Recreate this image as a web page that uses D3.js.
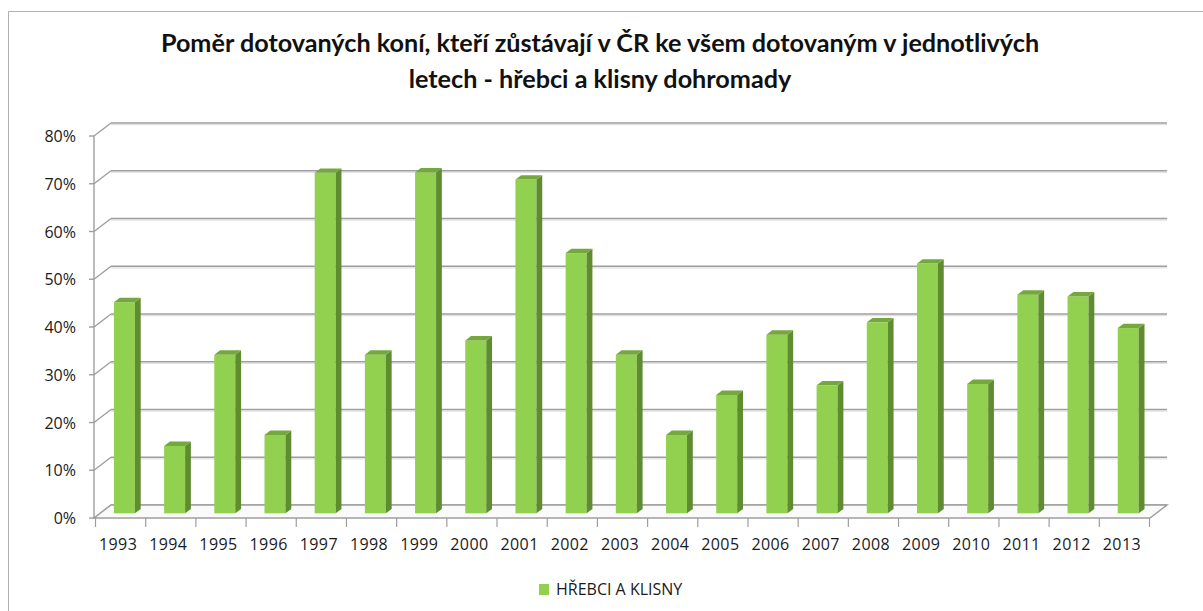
<!DOCTYPE html>
<html>
<head>
<meta charset="utf-8">
<script src="https://cdn.jsdelivr.net/npm/d3@7/dist/d3.min.js"></script>
<style>
  body { margin: 0; background: #fff; }
  svg { display: block; }
</style>
</head>
<body>
<div id="chart"></div>
<script>
// chart data
const years = ['1993', '1994', '1995', '1996', '1997', '1998', '1999', '2000', '2001', '2002', '2003',
    '2004', '2005', '2006', '2007', '2008', '2009', '2010', '2011', '2012', '2013'];
const shares = [44.2, 14.1, 33.2, 16.4, 71.3, 33.2, 71.4, 36.2, 69.9, 54.5, 33.2,
    16.4, 24.8, 37.4, 26.8, 40.0, 52.3, 27.1, 45.8, 45.4, 38.8];
const yTicks = [0, 10, 20, 30, 40, 50, 60, 70, 80];
const titleLines = [
    'Poměr dotovaných koní, kteří zůstávají v ČR ke všem dotovaným v jednotlivých',
    'letech - hřebci a klisny dohromady'
];
const seriesName = 'HŘEBCI A KLISNY';

const width = 1203,
    height = 611;
const font = "'Open Sans', 'Noto Sans', sans-serif";

// oblique 3d: depth vector from the front plane to the back wall
const depth = { x: 17, y: -13 };
const barT0 = 0.36; // depth of the bar front face
const barT = 0.34; // bar thickness in depth units

const svg = d3
    .select('#chart')
    .append('svg')
    .attr('width', width)
    .attr('height', height);

// frame
svg.append('path')
    .attr('d', `M8.5,${height} V11.5 H${width}`)
    .attr('fill', 'none')
    .attr('stroke', '#b0b0b0');

const x = d3.scaleBand().domain(years).range([95, 1149]);
const y = d3.scaleLinear().domain([0, 80]).range([518, 136]);

// back wall gridlines (with a soft shadow)
const grid = svg.append('g');
grid.selectAll('line.shadow')
    .data(yTicks)
    .enter()
    .append('line')
    .attr('x1', 94 + depth.x)
    .attr('x2', 1150 + depth.x)
    .attr('y1', (d) => y(d) + depth.y + 1.6)
    .attr('y2', (d) => y(d) + depth.y + 1.6)
    .attr('stroke', '#e2e2e2')
    .attr('stroke-width', 1.4);
grid.selectAll('line.main')
    .data(yTicks)
    .enter()
    .append('line')
    .attr('x1', 94 + depth.x)
    .attr('x2', 1150 + depth.x)
    .attr('y1', (d) => y(d) + depth.y)
    .attr('y2', (d) => y(d) + depth.y)
    .attr('stroke', '#9e9e9e')
    .attr('stroke-width', 1.6);

// side wall diagonals
grid.selectAll('line.diag')
    .data(yTicks)
    .enter()
    .append('line')
    .attr('x1', 94)
    .attr('y1', (d) => y(d))
    .attr('x2', 94 + depth.x)
    .attr('y2', (d) => y(d) + depth.y)
    .attr('stroke', '#9e9e9e')
    .attr('stroke-width', 1.4);

// floor
const f0 = y(0);
svg.append('path')
    .attr('d', `M94,${f0} L1150,${f0} L${1150 + depth.x},${f0 + depth.y} L${94 + depth.x},${f0 + depth.y} Z`)
    .attr('fill', '#fafafa')
    .attr('stroke', '#9e9e9e')
    .attr('stroke-width', 1.4);

// bars
const bw = 21;
const sdx = depth.x * barT,
    sdy = depth.y * barT;
const bars = svg.append('g');
years.forEach((yr, i) => {
    const x0 = x(yr) + 12.8 + depth.x * barT0;
    const yb = y(0) + depth.y * barT0;
    const yt = y(shares[i]) + depth.y * barT0;
    const x1 = x0 + bw;
    bars.append('rect')
        .attr('x', x0)
        .attr('y', yt)
        .attr('width', bw)
        .attr('height', yb - yt)
        .attr('fill', '#92d050');
    bars.append('path')
        .attr('d', `M${x1},${yt} L${x1 + sdx},${yt + sdy} L${x1 + sdx},${yb + sdy} L${x1},${yb} Z`)
        .attr('fill', '#5f8c31');
    bars.append('path')
        .attr('d', `M${x0},${yt} L${x0 + sdx},${yt + sdy} L${x1 + sdx},${yt + sdy} L${x1},${yt} Z`)
        .attr('fill', '#74a83c');
});

// front axes
svg.append('line')
    .attr('x1', 94).attr('x2', 94)
    .attr('y1', y(80)).attr('y2', y(0))
    .attr('stroke', '#9e9e9e')
    .attr('stroke-width', 1.4);
svg.selectAll('line.ytick')
    .data(yTicks)
    .enter()
    .append('line')
    .attr('x1', 89).attr('x2', 94)
    .attr('y1', (d) => y(d)).attr('y2', (d) => y(d))
    .attr('stroke', '#9e9e9e')
    .attr('stroke-width', 1.4);
svg.selectAll('line.xtick')
    .data(years.concat(['end']))
    .enter()
    .append('line')
    .attr('x1', (d, i) => 95 + i * x.step() + 0.5)
    .attr('x2', (d, i) => 95 + i * x.step() + 0.5)
    .attr('y1', y(0)).attr('y2', y(0) + 9)
    .attr('stroke', '#9e9e9e')
    .attr('stroke-width', 1.2);

// labels
svg.selectAll('text.ylab')
    .data(yTicks)
    .enter()
    .append('text')
    .attr('x', 76)
    .attr('y', (d) => y(d) + 6)
    .attr('text-anchor', 'end')
    .attr('font-family', font)
    .attr('font-size', 16)
    .attr('fill', '#1a1a1a')
    .text((d) => d + '%');
svg.selectAll('text.xlab')
    .data(years)
    .enter()
    .append('text')
    .attr('x', (d) => x(d) + x.bandwidth() / 2 - 2)
    .attr('y', 550)
    .attr('text-anchor', 'middle')
    .attr('font-family', font)
    .attr('font-size', 16)
    .attr('letter-spacing', 0.4)
    .attr('fill', '#1a1a1a')
    .text((d) => d);

// title
svg.selectAll('text.title')
    .data(titleLines)
    .enter()
    .append('text')
    .attr('x', 600)
    .attr('y', (d, i) => 52 + i * 36)
    .attr('text-anchor', 'middle')
    .attr('font-family', "Lato, 'Open Sans', sans-serif")
    .attr('font-weight', 'bold')
    .attr('font-size', 25.2)
    .attr('fill', '#111')
    .text((d) => d);

// legend
svg.append('rect')
    .attr('x', 539).attr('y', 584)
    .attr('width', 10).attr('height', 11)
    .attr('fill', '#92d050');
svg.append('text')
    .attr('x', 556).attr('y', 595)
    .attr('font-family', font)
    .attr('font-size', 16)
    .attr('fill', '#1a1a1a')
    .text(seriesName);
</script>
</body>
</html>
